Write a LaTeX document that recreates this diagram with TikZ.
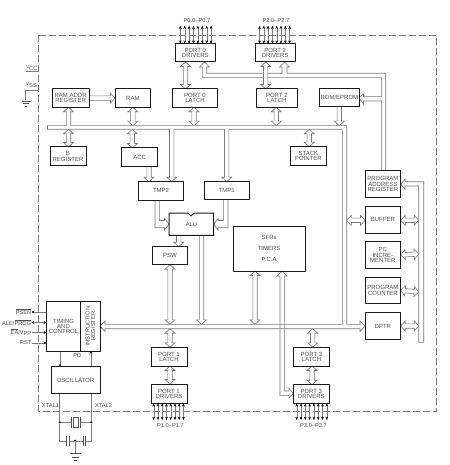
\documentclass[tikz,border=0pt]{standalone}
\usepackage{fontspec}
\setmainfont{Liberation Sans}
\usetikzlibrary{arrows.meta,calc,backgrounds}
\definecolor{ink}{gray}{0.32}
\definecolor{wire}{gray}{0.48}
\tikzset{
  box/.style={draw=black!90,line width=1pt,inner sep=0pt,outer sep=0pt,anchor=north west,align=center,text=ink,font=\fontsize{6}{5.4}\selectfont},
  lbl/.style={inner sep=0pt,text=ink,font=\fontsize{5.7}{5.4}\selectfont},
  hollow/.style={draw=wire,line width=.6pt,line join=miter},
  wirel/.style={draw=wire,line width=.6pt},
  pin/.style={draw=wire,line width=.4pt,{Stealth[length=3.2pt,width=2.6pt,black]}-{Stealth[length=3.2pt,width=2.6pt,black]}},
  sig/.style={draw=wire,line width=.6pt,-{Stealth[length=2.6pt,width=2.6pt,black]}},
  gnd/.style={draw=ink,line width=.7pt},
  dot/.style={circle,fill=black,inner sep=0pt,minimum size=2.4pt}
}
% box from corners
\newcommand\bx[6]{\node[box,minimum width={(#4-#2)*1pt},minimum height={(#5-#3)*1pt}] (#1) at (#2,#3) {#6};}
% measure a connector
\newcommand\measure[2]{\coordinate (S) at (#1);\coordinate (E) at (#2);
  \path let \p1=($(E)-(S)$),\n1={atan2(\y1,\x1)},\n2={veclen(\x1,\y1)} in \pgfextra{\xdef\ang{\n1}\xdef\len{\n2}};}
% hollow arrow with one head
\newcommand\onear[2]{\measure{#1}{#2}
  \begin{scope}[shift={(S)},rotate=\ang]
  \fill[white] (-1pt,2.2pt)--(\len-4.5pt,2.2pt)--(\len-4.5pt,5pt)--(\len,0pt)--(\len-4.5pt,-5pt)--(\len-4.5pt,-2.2pt)--(-1pt,-2.2pt)--cycle;
  \draw[hollow] (0pt,2.2pt)--(\len-4.5pt,2.2pt)--(\len-4.5pt,5pt)--(\len,0pt)--(\len-4.5pt,-5pt)--(\len-4.5pt,-2.2pt)--(0pt,-2.2pt);
  \end{scope}}
% hollow arrow with two heads
\newcommand\biar[2]{\measure{#1}{#2}
  \begin{scope}[shift={(S)},rotate=\ang]
  \filldraw[hollow,fill=white] (0pt,0pt)--(4.5pt,5pt)--(4.5pt,2.2pt)--(\len-4.5pt,2.2pt)--(\len-4.5pt,5pt)--(\len,0pt)--(\len-4.5pt,-5pt)--(\len-4.5pt,-2.2pt)--(4.5pt,-2.2pt)--(4.5pt,-5pt)--cycle;
  \end{scope}}
\begin{document}
\begin{tikzpicture}[x=1pt,y=-1pt]
\useasboundingbox (0,0) rectangle (449,465);
% boxes
\bx{pzd}{175.3}{43.7}{215.3}{62}{PORT 0\\DRIVERS}
\bx{ptd}{255}{43.7}{295.3}{62}{PORT 2\\DRIVERS}
\bx{pzl}{172.7}{89}{217.3}{107.3}{PORT 0\\LATCH}
\bx{ptl}{256.7}{89}{297}{107.3}{PORT 2\\LATCH}
\bx{ramad}{52.3}{89}{89}{107.3}{RAM ADDR\\REGISTER}
\bx{ram}{115}{89}{150.7}{107.3}{RAM}
\bx{rom}{319.7}{89}{359}{106.3}{ROM/EPROM}
\bx{breg}{50}{147}{86}{165.7}{B\\REGISTER}
\bx{acc}{121.7}{148}{157.7}{166.3}{ACC}
\bx{stack}{290.7}{146.7}{326}{165.3}{STACK\\POINTER}
\bx{tmpb}{138.7}{181.7}{183.3}{200}{TMP2}
\bx{tmpa}{204.3}{181.7}{249.3}{199.7}{TMP1}
\bx{par}{365}{170.7}{400.7}{197.7}{PROGRAM\\ADDRESS\\REGISTER}
\bx{buf}{365}{206.3}{400.7}{233}{BUFFER}
\bx{pci}{365}{241.3}{400.7}{268.7}{PC\\INCRE-\\MENTER}
\bx{pcn}{365}{277}{400.7}{303.7}{PROGRAM\\COUNTER}
\bx{dptr}{365}{312.7}{400.7}{339.3}{DPTR}
\bx{psw}{152.3}{246.7}{187.7}{264.7}{PSW}
\bx{sfr}{233.3}{226.7}{305}{271}{SFRs\\[5.6pt]TIMERS\\[5.6pt]P.C.A}
\bx{pal}{151}{347.3}{187}{366}{PORT 1\\LATCH}
\bx{pad}{151}{384}{187}{403.3}{PORT 1\\DRIVERS}
\bx{pcl}{293.7}{347.3}{329.3}{366}{PORT 3\\LATCH}
\bx{pcd}{293.3}{384.7}{329.3}{403.3}{PORT 3\\DRIVERS}
\bx{timing}{46.3}{301.7}{80.7}{351}{TIMING\\AND\\CONTROL}
\bx{instr}{80.7}{301.7}{100}{351}{}
\node[lbl,rotate=90,align=center] (instrt) at (instr.center) {INSTRUCTION\\REGISTER};
\bx{osc}{51}{366.7}{100}{393.7}{OSCILLATOR}
% ALU
\node[lbl,minimum width=44.7pt,minimum height=22.3pt,outer sep=0pt] (alu) at (191.35,224.15) {ALU};
\draw[draw=black!90,line width=1pt] (alu.north west)--(187.7,213)--(191,215.8)--(194.3,213)--(alu.north east)--(alu.south east)--(alu.south west)--cycle;
% levels
\coordinate (bt) at (0,125.7);
\coordinate (bb) at (0,129.3);
\coordinate (lt) at (0,324.3);
\coordinate (lb) at (0,328.7);
\begin{pgfonlayer}{background}
\fill[white] (0,0) rectangle (449,465);
% frame
\draw[draw=wire,line width=.6pt,dash pattern=on 7pt off 3pt] (38.7,35.3) rectangle (436.7,411);
% main bus
\draw[hollow] (47.5,125.7)--(346.7,125.7)--(346.7,324.3)--(360,324.3)--(360,321)--(dptr.west)--(360,331.5)--(360,328.7)--(105,328.7)--(105,331.5)--(instr.east)--(105,321)--(105,324.3)--(342.3,324.3)--(342.3,129.3)--(47.5,129.3)--cycle;
% address bus
\draw[hollow,fill=white] (381.7,170.7)--(381.7,101)--(363.5,101)--(363.5,104)--(rom.east)--(363.5,94)--(363.5,96.7)--(381.7,96.7)--(381.7,77.7)--(202.3,77.7)--(202.3,67)--(199.5,67)--(204.5,62)--(209.5,67)--(206.7,67)--(206.7,73.3)--(282,73.3)--(282,67)--(279.5,67)--(284.5,62)--(289.5,67)--(287,67)--(287,73.3)--(385.7,73.3)--(385.7,170.7);
% right bus
\draw[hollow] (423.7,181.7)--(423.7,342.3)--(418.7,342.3)--(418.7,186)--(405,186)--(405,189)--(par.east)--(405,179)--(405,181.7)--cycle;
% connectors
\biar{pzd.south -| 185.5,0}{pzl.north -| 185.5,0}
\biar{ptd.south -| 265.7,0}{ptl.north -| 265.7,0}
\biar{pzl.south -| 194,0}{194,0 |- bt}
\biar{ptl.south -| 276.3,0}{276.3,0 |- bt}
\onear{ramad.east}{ram.west}
\biar{ram.south}{ram.south |- bt}
\onear{68.5,0 |- bt}{68.5,0 |- ramad.south}
\biar{68.5,0 |- bb}{breg.north -| 68.5,0}
\biar{132.3,0 |- bb}{acc.north -| 132.3,0}
\biar{309.3,0 |- bb}{stack.north -| 309.3,0}
\onear{339.3,0 |- rom.south}{339.3,0 |- bt}
\onear{149,0 |- acc.south}{149,0 |- tmpb.north}
\onear{171.7,0 |- bb}{171.7,0 |- tmpb.north}
\onear{226.7,0 |- bb}{226.7,0 |- tmpa.north}
\onear{178.7,0 |- alu.south}{178.7,0 |- psw.north}
\onear{201.5,0 |- alu.south}{201.5,0 |- lt}
\biar{psw.south -| 170,0}{170,0 |- lt}
\biar{170,0 |- lb}{pal.north -| 170,0}
\biar{pal.south -| 170,0}{pad.north -| 170,0}
\biar{312.7,0 |- lb}{pcl.north -| 312.7,0}
\biar{pcl.south -| 312,0}{pcd.north -| 312,0}
\biar{255,0 |- sfr.south}{255,0 |- lt}
\biar{346.7,220.3}{buf.west |- 0,220.3}
\biar{buf.east |- 0,220.3}{418.7,220.3}
\biar{pci.east}{418.7,254}
\biar{pcn.east}{418.7,292}
\biar{dptr.east}{418.7,326}
% bent hollow arrows
\draw[hollow,fill=white] (155,200)--(155,227.7)--(164.5,227.7)--(164.5,230)--(alu.west)--(164.5,218.5)--(164.5,220.5)--(159.3,220.5)--(159.3,200);
\draw[hollow,fill=white] (228,199.7)--(228,227.7)--(218,227.7)--(218,230)--(alu.east)--(218,218.5)--(218,220.5)--(223.3,220.5)--(223.3,199.7);
\draw[hollow] (277,276)--(282.1,271)--(287,276)--(284.3,276)--(284.3,391)--(288.8,391)--(288.8,388)--(293.3,393.5)--(288.8,398)--(288.8,395.3)--(280,395.3)--(280,276)--cycle;
% clock
\draw[sig] (timing.south -| 60,0)--(osc.north -| 60,0);
\draw[sig] (osc.north -| 91,0)--(instr.south -| 91,0);
\end{pgfonlayer}
% port pins
\foreach \x in {0,...,7}{
 \draw[pin] (180.3+\x*4.4,0 |- pzd.north)--(180.3+\x*4.4,25.7);
 \draw[pin] (259.5+\x*4.3,0 |- ptd.north)--(259.5+\x*4.3,25.7);
 \draw[pin] (153.7+\x*4.25,0 |- pad.south)--(153.7+\x*4.25,420);
 \draw[pin] (296.7+\x*4.3,0 |- pcd.south)--(296.7+\x*4.3,420);
}
\node[lbl] (lpz) at (197,20.5) {P0.0–P0.7};
\node[lbl] (lpt) at (276,20.5) {P2.0–P2.7};
\node[lbl] (lpa) at (170.5,425.5) {P1.0–P1.7};
\node[lbl] (lpc) at (313.5,425.5) {P3.0–P3.7};
% supply
\node[lbl,anchor=west] (vcc) at (26,68) {\raisebox{1.5pt}{\fontsize{4.5}{5}\selectfont V}CC};
\node[lbl,anchor=west] (vss) at (26,85) {\raisebox{1.5pt}{\fontsize{4.5}{5}\selectfont V}SS};
\draw[wirel] (25.5,71.7)--(38.7,71.7);
\draw[wirel] (38.7,90)--(25,90)--(25,100);
\draw[gnd] (21.5,101.3)--(30.5,101.3) (23,103.8)--(28.8,103.8) (24.5,106)--(27,106);
% control signals
\node[lbl,anchor=east] (psen) at (31.5,312) {$\overline{\hbox{\fontsize{5.7}{6}\selectfont PSEN}}$};
\node[lbl,anchor=east] (ale) at (31.5,322.5) {ALE/$\overline{\hbox{\fontsize{5.7}{6}\selectfont PROG}}$};
\node[lbl,anchor=east] (ea) at (31.5,332.5) {$\overline{\hbox{\fontsize{5.7}{6}\selectfont EA}}$/V\raisebox{-1pt}{PP}};
\node[lbl,anchor=east] (rst) at (31.5,343) {RST};
\draw[draw=wire,line width=.6pt,-{Stealth[length=2.6pt,width=2.6pt,black]}] (timing.west |- psen)--(psen.east);
\draw[draw=wire,line width=.6pt,{Stealth[length=2.6pt,width=2.6pt,black]}-{Stealth[length=2.6pt,width=2.6pt,black]}] (ale.east)--(timing.west |- ale);
\draw[sig] (ea.east)--(timing.west |- ea);
\draw[sig] (rst.east)--(timing.west |- rst);
\node[lbl] (pd) at (77.3,355.5) {PD};
\node[lbl] (xa) at (50.5,406) {XTAL1};
\node[lbl] (xb) at (103.5,406) {XTAL2};
% crystal
\coordinate (xl) at (osc.south -| 59.7,0);
\coordinate (xr) at (osc.south -| 91.3,0);
\node[dot] (da) at (59.7,422.3) {};
\node[dot] (db) at (91.3,422.3) {};
\node[dot] (dc) at (75.3,440.8) {};
\draw[wirel] (xl)--(da)--(59.7,440.8)--(66.3,440.8);
\draw[wirel] (xr)--(db)--(91.3,440.8)--(85.7,440.8);
\draw[wirel] (da)--(71,422.3) (80,422.3)--(db);
\draw[gnd,line width=.8pt] (71,417)--(71,427.5) (80,417)--(80,427.5);
\draw[gnd] (73,417)rectangle(78,427.5);
\draw[gnd,line width=.8pt] (66.5,435.5)--(66.5,446) (69,435.5)--(69,446) (83,435.5)--(83,446) (85.5,435.5)--(85.5,446);
\draw[wirel] (69,440.8)--(83,440.8);
\draw[wirel] (dc)--(75.3,453.5);
\draw[gnd] (70,453.7)--(80.5,453.7) (72,457)--(78.5,457) (74,460)--(76.5,460);
\end{tikzpicture}
\end{document}
